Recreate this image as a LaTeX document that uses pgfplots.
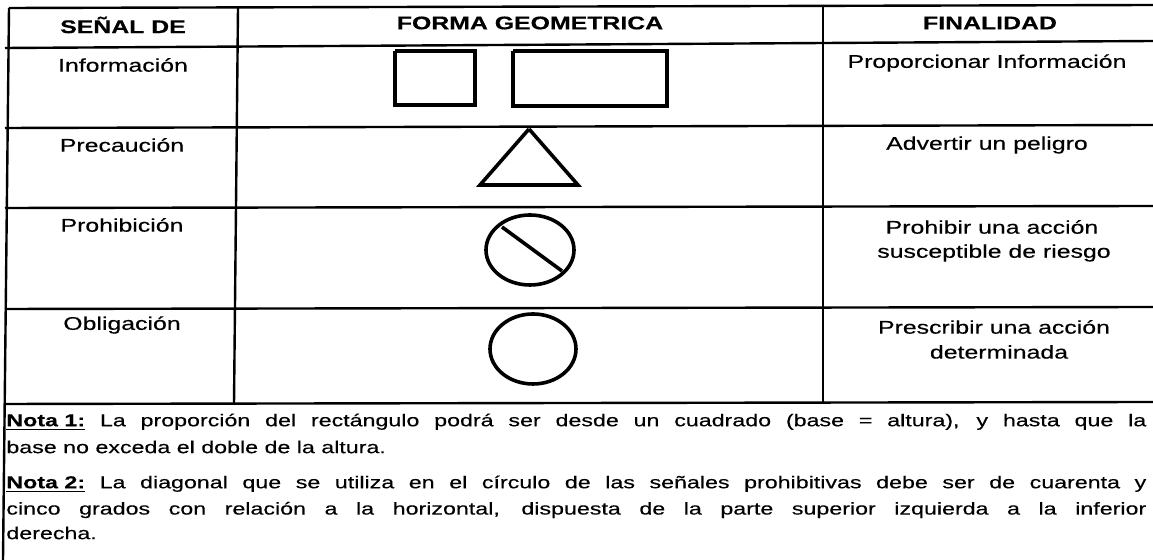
\documentclass[border=0pt]{standalone}
\usepackage{pgfplots}
\pgfplotsset{compat=1.18}
\usepackage{fontspec}
\setmainfont{Liberation Sans}[FakeStretch=1.35, FakeBold=0.35]
\newcommand{\cellfont}{\fontsize{9.2bp}{11bp}\selectfont}
\newcommand{\notefont}{\fontsize{8.6bp}{10bp}\selectfont}
\newcommand{\nota}[1]{\textbf{\underline{#1}}}
\begin{document}
\begin{tikzpicture}
\begin{axis}[
  scale only axis, width=576.5bp, height=280bp,
  xmin=0, xmax=1153, ymin=0, ymax=560, y dir=reverse,
  hide axis, clip=true,
  rule/.style={black, solid, line width=1.2bp, no markers},
  shape/.style={black, solid, line width=1.8bp, no markers},
]
% table rules (image pixel coordinates, y downwards)
\addplot[rule] coordinates {(9,8) (1153,5)};
\addplot[rule] coordinates {(5,48) (1153,41)};
\addplot[rule] coordinates {(5,128) (1153,125)};
\addplot[rule] coordinates {(5,208) (1153,206)};
\addplot[rule] coordinates {(5,309) (1153,307)};
\addplot[rule] coordinates {(5,404) (1153,402)};
\addplot[rule] coordinates {(9,8) (3,560)};
\addplot[rule] coordinates {(238,8) (234,404)};
\addplot[rule] coordinates {(823,5) (823,402)};
% shapes
\addplot[shape] coordinates {(395,51) (475,51) (475,105) (395,105) (395,51)};
\addplot[shape] coordinates {(513,51) (667,51) (667,106) (513,106) (513,51)};
\addplot[shape] coordinates {(529,129) (578,185) (480,185) (529,129)};
\addplot[shape] coordinates {(502,227) (562,271)};
\draw[line width=1.8bp] (axis cs:530,250) ellipse [x radius=44, y radius=35];
\draw[line width=1.8bp] (axis cs:533,349) ellipse [x radius=43, y radius=35];
% header
\node[font=\cellfont] at (axis cs:123,25) {\textbf{SEÑAL DE}};
\node[font=\cellfont] at (axis cs:530,23) {\textbf{FORMA GEOMETRICA}};
\node[font=\cellfont] at (axis cs:990,23) {\textbf{FINALIDAD}};
% first column
\node[font=\cellfont] at (axis cs:123,65) {Información};
\node[font=\cellfont] at (axis cs:122,145) {Precaución};
\node[font=\cellfont] at (axis cs:122,225) {Prohibición};
\node[font=\cellfont] at (axis cs:122,325) {Obligación};
% last column
\node[font=\cellfont] at (axis cs:987,63) {Proporcionar Información};
\node[font=\cellfont] at (axis cs:987,145) {Advertir un peligro};
\node[font=\cellfont] at (axis cs:992,227) {Prohibir una acción};
\node[font=\cellfont] at (axis cs:994,253) {susceptible de riesgo};
\node[font=\cellfont] at (axis cs:994,327) {Prescribir una acción};
\node[font=\cellfont] at (axis cs:999,352) {determinada};
% notes
\node[font=\notefont, anchor=west, inner sep=0pt] at (axis cs:6,422) {\makebox[570bp][s]{\nota{Nota 1:} La proporción del rectángulo podrá ser desde un cuadrado (base = altura), y hasta que la}};
\node[font=\notefont, anchor=west, inner sep=0pt] at (axis cs:6,447) {base no exceda el doble de la altura.};
\node[font=\notefont, anchor=west, inner sep=0pt] at (axis cs:6,484) {\makebox[570bp][s]{\nota{Nota 2:} La diagonal que se utiliza en el círculo de las señales prohibitivas debe ser de cuarenta y}};
\node[font=\notefont, anchor=west, inner sep=0pt] at (axis cs:6,510) {\makebox[570bp][s]{cinco grados con relación a la horizontal, dispuesta de la parte superior izquierda a la inferior}};
\node[font=\notefont, anchor=west, inner sep=0pt] at (axis cs:6,533) {derecha.};
\end{axis}
\pgfresetboundingbox
\path (current axis.south west) rectangle (current axis.north east);
\end{tikzpicture}
\end{document}
